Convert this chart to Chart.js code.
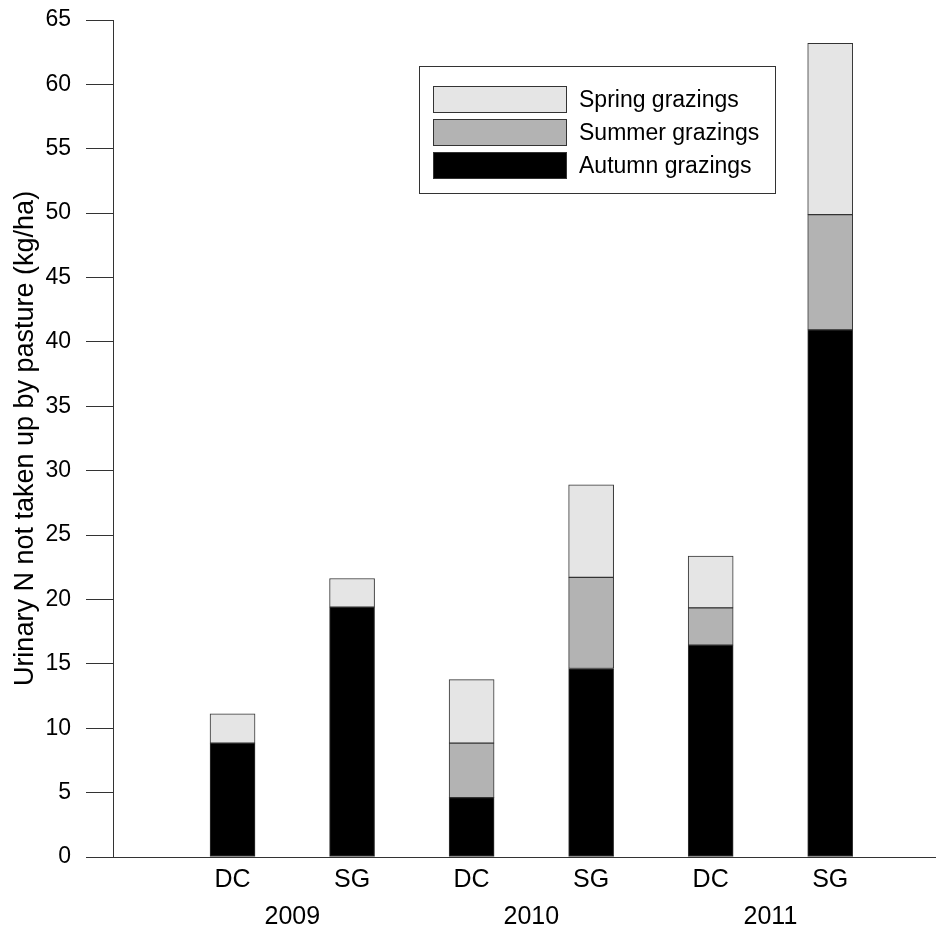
<!DOCTYPE html>
<html>
<head>
<meta charset="utf-8">
<script src="https://cdn.jsdelivr.net/npm/chart.js@4/dist/chart.umd.min.js"></script>
<style>
  body { margin: 0; background: #fff; }
  #wrap { width: 936px; height: 927px; }
</style>
</head>
<body>
<div id="wrap"><canvas id="chart" width="936" height="927"></canvas></div>
<script>
// Treatments and years along the x axis
const treatments = ['DC', 'SG', 'DC', 'SG', 'DC', 'SG'];
const years = ['2009', '2010', '2011'];

// Urinary N not taken up by pasture (kg/ha), stacked by grazing season
const autumn = [8.84, 19.4, 4.61, 14.64, 16.45, 40.93];
const summer = [0, 0, 4.23, 7.07, 2.9, 8.96];
const spring = [2.27, 2.23, 4.94, 7.2, 4.02, 13.29];

const yTicks = [0, 5, 10, 15, 20, 25, 30, 35, 40, 45, 50, 55, 60, 65];

const FONT = "'Liberation Sans', Arial, sans-serif";
const LINE = '#333333';

// bars sit at positions 1..6, the year labels between each pair
const positions = treatments.map((t, i) => i + 1);
const yearPositions = years.map((y, i) => i * 2 + 1.5);
const X_MAX = 6.885;

function toPoints(values) {
    return values.map((v, i) => ({ x: positions[i], y: v }));
}

function barSet(label, values, color) {
    return {
        label: label,
        data: toPoints(values),
        backgroundColor: color,
        borderColor: LINE,
        borderWidth: 1,
        borderSkipped: false,
        barThickness: 45
    };
}

// Boxed legend drawn inside the plot, top entry = top of the stack
const boxLegend = {
    id: 'boxLegend',
    afterDraw(chart) {
        const ctx = chart.ctx;
        const items = chart.data.datasets.slice().reverse();
        ctx.save();
        ctx.strokeStyle = LINE;
        ctx.lineWidth = 1;
        ctx.fillStyle = '#fff';
        ctx.fillRect(419.5, 66.5, 356, 127);
        ctx.strokeRect(419.5, 66.5, 356, 127);
        ctx.font = '23px ' + FONT;
        ctx.textBaseline = 'middle';
        items.forEach((ds, i) => {
            const top = 86.5 + i * 33;
            ctx.fillStyle = ds.backgroundColor;
            ctx.fillRect(433.5, top, 133, 26);
            ctx.strokeRect(433.5, top, 133, 26);
            ctx.fillStyle = '#000';
            ctx.fillText(ds.label, 579, top + 14);
        });
        ctx.restore();
    }
};

new Chart(document.getElementById('chart'), {
    type: 'bar',
    data: {
        datasets: [
            barSet('Autumn grazings', autumn, '#000000'),
            barSet('Summer grazings', summer, '#b3b3b3'),
            barSet('Spring grazings', spring, '#e5e5e5')
        ]
    },
    options: {
        responsive: false,
        animation: false,
        layout: { padding: { top: 20, right: 0, bottom: 0, left: 0 } },
        plugins: {
            legend: { display: false },
            tooltip: { enabled: false }
        },
        scales: {
            x: {
                type: 'linear',
                stacked: true,
                offset: false,
                min: 0,
                max: X_MAX,
                weight: 0,
                grid: { display: true, offset: false, drawOnChartArea: false, drawTicks: false },
                border: { display: true, color: LINE, width: 1 },
                afterBuildTicks: scale => {
                    scale.ticks = positions.map(v => ({ value: v }));
                },
                afterFit: scale => {
                    scale.height = 40;
                    scale.paddingLeft = 0;
                    scale.paddingRight = 0;
                },
                ticks: {
                    autoSkip: false,
                    maxRotation: 0,
                    padding: 8,
                    color: '#000',
                    font: { family: FONT, size: 25 },
                    callback: (value) => treatments[positions.indexOf(value)]
                }
            },
            years: {
                type: 'linear',
                position: 'bottom',
                offset: false,
                min: 0,
                max: X_MAX,
                weight: 1,
                grid: { display: false, drawTicks: false },
                border: { display: false },
                afterBuildTicks: scale => {
                    scale.ticks = yearPositions.map(v => ({ value: v }));
                },
                afterFit: scale => {
                    scale.height = 30;
                    scale.paddingLeft = 0;
                    scale.paddingRight = 0;
                },
                ticks: {
                    autoSkip: false,
                    maxRotation: 0,
                    padding: 5,
                    color: '#000',
                    font: { family: FONT, size: 25 },
                    callback: (value) => years[yearPositions.indexOf(value)]
                }
            },
            y: {
                stacked: true,
                min: 0,
                max: 65,
                afterBuildTicks: scale => {
                    scale.ticks = yTicks.map(v => ({ value: v }));
                },
                afterFit: scale => {
                    scale.width = 113;
                    scale.paddingTop = 0;
                    scale.paddingBottom = 0;
                },
                grid: {
                    drawOnChartArea: false,
                    drawTicks: true,
                    tickLength: 27,
                    color: LINE,
                    lineWidth: 1
                },
                border: { display: true, color: LINE, width: 1 },
                ticks: {
                    padding: 15,
                    color: '#000',
                    font: { family: FONT, size: 23 }
                },
                title: {
                    display: true,
                    text: 'Urinary N not taken up by pasture (kg/ha)',
                    color: '#000',
                    font: { family: FONT, size: 27 },
                    padding: { top: 9, bottom: 0 }
                }
            }
        }
    },
    plugins: [boxLegend]
});
</script>
</body>
</html>
